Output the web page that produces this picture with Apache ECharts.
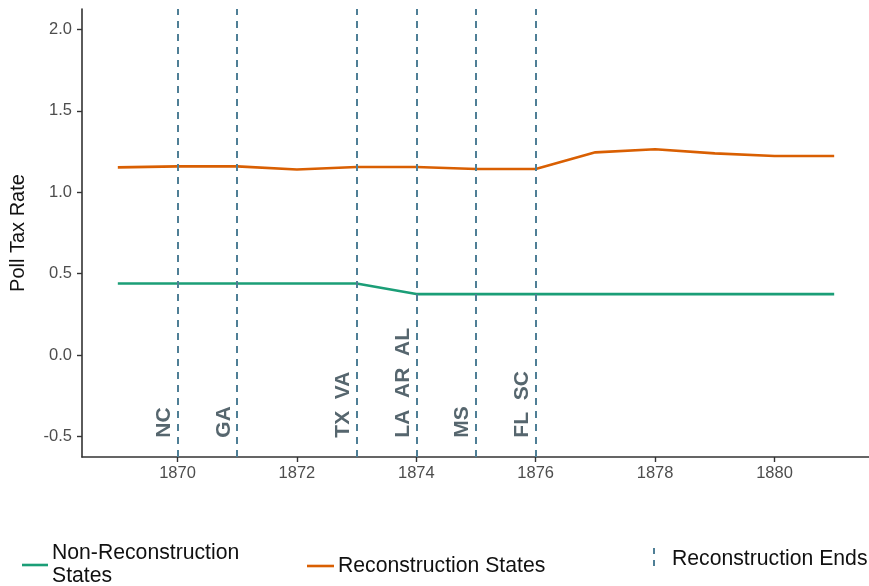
<!DOCTYPE html>
<html>
<head>
<meta charset="utf-8">
<title>Poll Tax Rate</title>
<script src="https://cdn.jsdelivr.net/npm/echarts@6/dist/echarts.min.js"></script>
<style>
  html, body { margin: 0; padding: 0; background: #ffffff; }
  #chart { width: 869px; height: 586px; }
</style>
</head>
<body>
<div id="chart"></div>
<script>
// Yearly average poll tax rates
const years = [1869, 1870, 1871, 1872, 1873, 1874, 1875, 1876, 1877, 1878, 1879, 1880, 1881];
const reconstructionStates = [1.153, 1.159, 1.159, 1.14, 1.155, 1.155, 1.143, 1.143, 1.245, 1.264, 1.239, 1.223, 1.223];
const nonReconstructionStates = [0.44, 0.44, 0.44, 0.44, 0.44, 0.375, 0.375, 0.375, 0.375, 0.375, 0.375, 0.375, 0.375];

// Year Reconstruction ended in each group of states
const endYears = [1870, 1871, 1873, 1874, 1875, 1876];
const endLabels = ['NC', 'GA', 'TX  VA', 'LA  AR  AL', 'MS', 'FL  SC'];
const endLabelY = -0.5;

const xTicks = [1870, 1872, 1874, 1876, 1878, 1880];
const yTicks = [-0.5, 0, 0.5, 1.0, 1.5, 2.0];

const FONT = "'Liberation Sans', Arial, sans-serif";
const GREEN = '#1b9e77';
const ORANGE = '#d95f02';
const DASH = '#4f7f96';
const LABEL = '#56666e';
const LEGEND_FONT = '21.2px ' + FONT;

const chart = echarts.init(document.getElementById('chart'), null, { renderer: 'canvas' });

function pairs(xs, ys) { return xs.map((x, i) => [x, ys[i]]); }

const option = {
  animation: false,
  backgroundColor: '#ffffff',
  textStyle: { fontFamily: FONT },
  grid: { left: 82, right: -1, top: 9, bottom: 129, containLabel: false, outerBoundsMode: 'none' },
  xAxis: {
    type: 'value',
    min: 1868.4,
    max: 1881.6,
    splitLine: { show: false },
    axisLine: { onZero: false, lineStyle: { color: '#333333', width: 1.6 } },
    axisTick: { show: true, length: 5, customValues: xTicks, lineStyle: { color: '#333333', width: 1.4 } },
    axisLabel: {
      customValues: xTicks, margin: 8, color: '#4d4d4d', fontSize: 16.5, fontFamily: FONT,
      formatter: v => String(v)
    }
  },
  yAxis: {
    type: 'value',
    min: -0.625,
    max: 2.125,
    name: 'Poll Tax Rate',
    nameLocation: 'middle',
    nameRotate: 90,
    nameGap: 54,
    nameTextStyle: { color: '#111111', fontSize: 20, fontFamily: FONT },
    splitLine: { show: false },
    axisLine: { show: true, onZero: false, lineStyle: { color: '#333333', width: 1.6 } },
    axisTick: { show: true, length: 5, customValues: yTicks, lineStyle: { color: '#333333', width: 1.4 } },
    axisLabel: {
      customValues: yTicks, margin: 10, color: '#4d4d4d', fontSize: 16.5, fontFamily: FONT,
      formatter: v => v.toFixed(1)
    }
  },
  series: [
    {
      name: 'Reconstruction Ends',
      type: 'line',
      data: [],
      silent: true,
      markLine: {
        silent: true,
        symbol: ['none', 'none'],
        label: { show: false },
        lineStyle: { color: DASH, width: 2, type: [7, 6] },
        data: endYears.map(y => ({ xAxis: y }))
      }
    },
    {
      name: 'Non-Reconstruction States',
      type: 'line',
      data: pairs(years, nonReconstructionStates),
      showSymbol: false,
      lineStyle: { color: GREEN, width: 2.6 },
      itemStyle: { color: GREEN }
    },
    {
      name: 'Reconstruction States',
      type: 'line',
      data: pairs(years, reconstructionStates),
      showSymbol: false,
      lineStyle: { color: ORANGE, width: 2.6 },
      itemStyle: { color: ORANGE }
    },
    {
      name: 'State labels',
      type: 'custom',
      silent: true,
      data: endYears.map((y, i) => [y, endLabelY, endLabels[i]]),
      renderItem: function (params, api) {
        const p = api.coord([api.value(0), api.value(1)]);
        return {
          type: 'text',
          x: p[0] - 3,
          y: p[1] + 1,
          rotation: Math.PI / 2,
          style: {
            text: endLabels[params.dataIndex],
            fill: LABEL,
            font: 'bold 21px ' + FONT,
            align: 'left',
            verticalAlign: 'bottom'
          }
        };
      }
    }
  ],
  graphic: [
    // legend: Non-Reconstruction States
    { type: 'line', shape: { x1: 22, y1: 565, x2: 48, y2: 565 }, style: { stroke: GREEN, lineWidth: 2.6 } },
    { type: 'text', x: 52, y: 553, style: { text: 'Non-Reconstruction', font: LEGEND_FONT, fill: '#111111', verticalAlign: 'middle' } },
    { type: 'text', x: 52, y: 576, style: { text: 'States', font: LEGEND_FONT, fill: '#111111', verticalAlign: 'middle' } },
    // legend: Reconstruction States
    { type: 'line', shape: { x1: 307, y1: 566, x2: 334, y2: 566 }, style: { stroke: ORANGE, lineWidth: 2.6 } },
    { type: 'text', x: 338, y: 566, style: { text: 'Reconstruction States', font: LEGEND_FONT, fill: '#111111', verticalAlign: 'middle' } },
    // legend: Reconstruction Ends
    { type: 'line', shape: { x1: 654, y1: 548, x2: 654, y2: 569 }, style: { stroke: DASH, lineWidth: 2, lineDash: [6, 6] } },
    { type: 'text', x: 672, y: 559, style: { text: 'Reconstruction Ends', font: LEGEND_FONT, fill: '#111111', verticalAlign: 'middle' } }
  ]
};

chart.setOption(option);
</script>
</body>
</html>
